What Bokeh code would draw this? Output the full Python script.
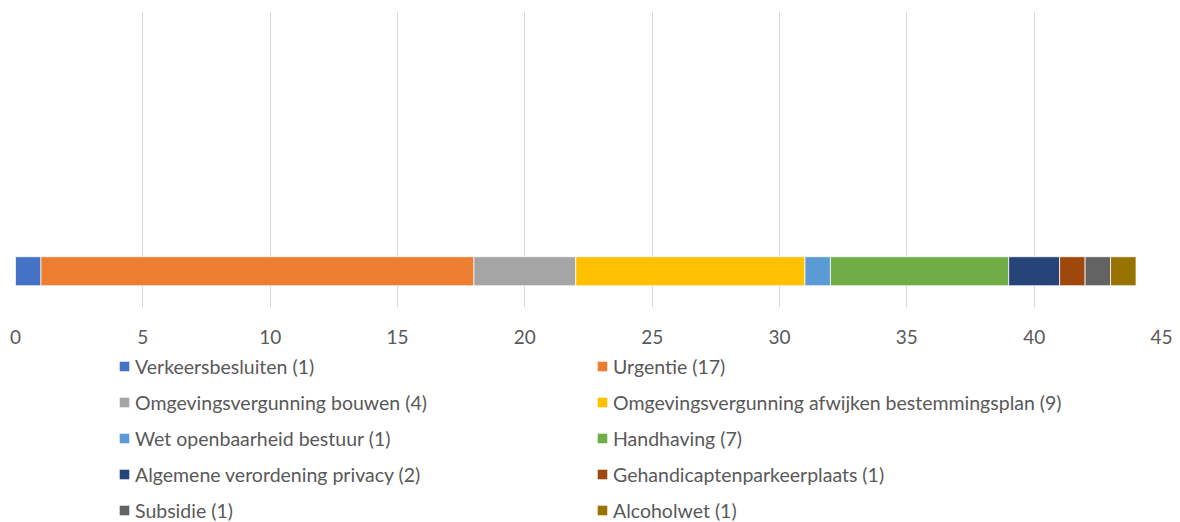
from bokeh.plotting import figure
from bokeh.layouts import column
from bokeh.models import ColumnDataSource, Range1d, FixedTicker, Legend, LegendItem
from bokeh.embed import file_html
from bokeh.resources import INLINE

categories = [
    "Verkeersbesluiten",
    "Urgentie",
    "Omgevingsvergunning bouwen",
    "Omgevingsvergunning afwijken bestemmingsplan",
    "Wet openbaarheid bestuur",
    "Handhaving",
    "Algemene verordening privacy",
    "Gehandicaptenparkeerplaats",
    "Subsidie",
    "Alcoholwet",
]
values = [1, 17, 4, 9, 1, 7, 2, 1, 1, 1]
colors = ["#4472C4", "#ED7D31", "#A5A5A5", "#FFC000", "#5B9BD5",
          "#70AD47", "#264478", "#9E480E", "#636363", "#997300"]
x_ticks = [0, 5, 10, 15, 20, 25, 30, 35, 40, 45]

FONT = "Lato"
TXT = "#595959"

keys = [f"s{i}" for i in range(len(categories))]
data = {"y": [0]}
for k, v in zip(keys, values):
    data[k] = [v]
src = ColumnDataSource(data)

# ---- main chart ----
p = figure(width=1180, height=350, output_backend="svg", toolbar_location=None,
           x_range=Range1d(0, 45), y_range=Range1d(-1.0, 7.16),
           y_axis_location=None,
           min_border_left=15, min_border_right=19, min_border_top=11,
           min_border_bottom=43)
p.title.visible = False
p.outline_line_color = None
p.background_fill_color = "white"
p.border_fill_color = "white"

rs = p.hbar_stack(keys, y="y", height=0.8, source=src,
                  fill_color=colors, line_color="white", line_width=0.75)

p.xaxis.ticker = FixedTicker(ticks=x_ticks)
p.xaxis.axis_line_color = None
p.xaxis.major_tick_line_color = None
p.xaxis.minor_tick_line_color = None
p.xaxis.major_label_text_font = FONT
p.xaxis.major_label_text_font_size = "19px"
p.xaxis.major_label_text_color = TXT
p.xaxis.major_label_standoff = 16

p.ygrid.grid_line_color = None
p.xgrid.grid_line_color = "#D9D9D9"
p.xgrid.grid_line_width = 1

# ---- legend strip (same series, bars kept outside the visible range) ----
lg = figure(width=1180, height=172, output_backend="svg", toolbar_location=None,
            x_range=Range1d(0, 45), y_range=Range1d(10, 11),
            x_axis_location=None, y_axis_location=None,
            min_border_left=0, min_border_right=0, min_border_top=0,
            min_border_bottom=0)
lg.title.visible = False
lg.outline_line_color = None
lg.grid.grid_line_color = None
lg.background_fill_color = "white"
lg.border_fill_color = "white"
lrs = lg.hbar_stack(keys, y="y", height=0.8, source=src,
                    fill_color=colors, line_color=None)

items = [LegendItem(label=f"{c} ({v})", renderers=[r])
         for c, v, r in zip(categories, values, lrs)]
legend = Legend(items=items, location=(103, 0), ncols=2,
                orientation="horizontal",
                padding=0, margin=0, spacing=12,
                glyph_width=12, glyph_height=12, label_standoff=5,
                label_width=449, label_height=24,
                label_text_font=FONT, label_text_font_size="19.5px",
                label_text_color=TXT,
                border_line_color=None, background_fill_alpha=0)
lg.add_layout(legend, "center")

layout = column(p, lg, spacing=0)
open("out.html", "w").write(file_html(layout, INLINE))
